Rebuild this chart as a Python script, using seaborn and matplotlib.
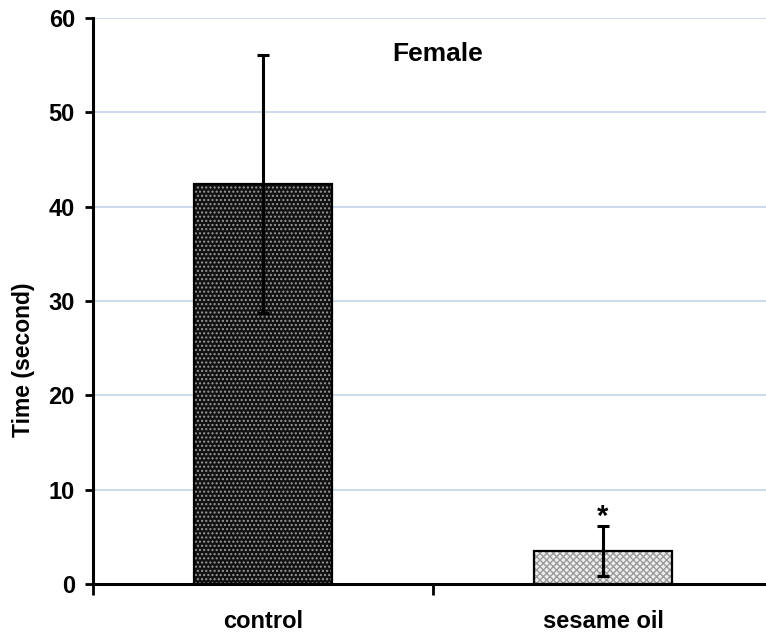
import matplotlib
matplotlib.use("Agg")
import matplotlib.pyplot as plt
import seaborn as sns
import pandas as pd

groups = ["control", "sesame oil"]
means = [42.4, 3.5]
errors = [13.7, 2.7]
y_ticks = [0, 10, 20, 30, 40, 50, 60]

df = pd.DataFrame({"group": groups, "time": means})

sns.set_style("white")
plt.rcParams["font.family"] = ["Liberation Sans", "DejaVu Sans"]
plt.rcParams["font.weight"] = "bold"
plt.rcParams["text.color"] = "black"
plt.rcParams["axes.labelcolor"] = "black"
plt.rcParams["xtick.color"] = "black"
plt.rcParams["ytick.color"] = "black"

fig = plt.figure(figsize=(7.66, 6.32), dpi=100)
ax = fig.add_axes([93 / 766, 48 / 632, 680 / 766, 566 / 632])

sns.barplot(data=df, x="group", y="time", ax=ax, width=0.405,
            color="black", errorbar=None, zorder=2)

# fill styles: dark dotted for control, light cross-hatch for sesame oil
styles = [("#111111", "#9a9a9a", "...."), ("#eeeeee", "#9a9a9a", "xxxxx")]
for patch, (fc, hc, hatch) in zip(ax.patches, styles):
    patch.set_facecolor(fc)
    patch.set_edgecolor(hc)
    patch.set_hatch(hatch)
    patch.set_linewidth(0)
    outline = plt.Rectangle(patch.get_xy(), patch.get_width(), patch.get_height(),
                            fill=False, edgecolor="black", linewidth=1.6, zorder=3)
    ax.add_patch(outline)

ax.errorbar(range(len(groups)), means, yerr=errors, fmt="none",
            ecolor="black", elinewidth=2.2, capsize=4, capthick=2.2, zorder=4)

ax.text(1, means[1] + errors[1] - 0.6, "*", ha="center", va="bottom",
        fontsize=21, fontweight="bold", color="black")
ax.text(0.507, 0.937, "Female", transform=ax.transAxes, ha="center", va="center",
        fontsize=19, fontweight="bold", color="black")

ax.set_ylim(0, 60)
ax.set_xlim(-0.5, 1.5)
ax.set_yticks(y_ticks)
ax.yaxis.grid(True, color="#c4d4ec", linewidth=1.2)
ax.set_axisbelow(True)

ax.set_xticks([-0.5, 0.5, 1.5], minor=False)
ax.set_xticklabels(["", "", ""])
ax.set_xticks([0, 1], minor=True)
ax.set_xticklabels(groups, minor=True, fontsize=17, fontweight="bold")
ax.tick_params(axis="x", which="major", direction="out", length=8, width=2, bottom=True)
ax.tick_params(axis="x", which="minor", length=0, pad=19)
ax.tick_params(axis="y", direction="out", length=6, width=2, left=True,
               labelsize=17, pad=7)
for lab in ax.get_yticklabels():
    lab.set_fontweight("bold")

ax.set_xlabel("")
ax.set_ylabel("Time (second)", fontsize=16.5, fontweight="bold")
ax.yaxis.set_label_coords(-0.085, 0.396)

for side in ["top", "right"]:
    ax.spines[side].set_visible(False)
for side in ["left", "bottom"]:
    ax.spines[side].set_linewidth(2.2)
    ax.spines[side].set_color("black")

fig.savefig("out.png", dpi=100)
